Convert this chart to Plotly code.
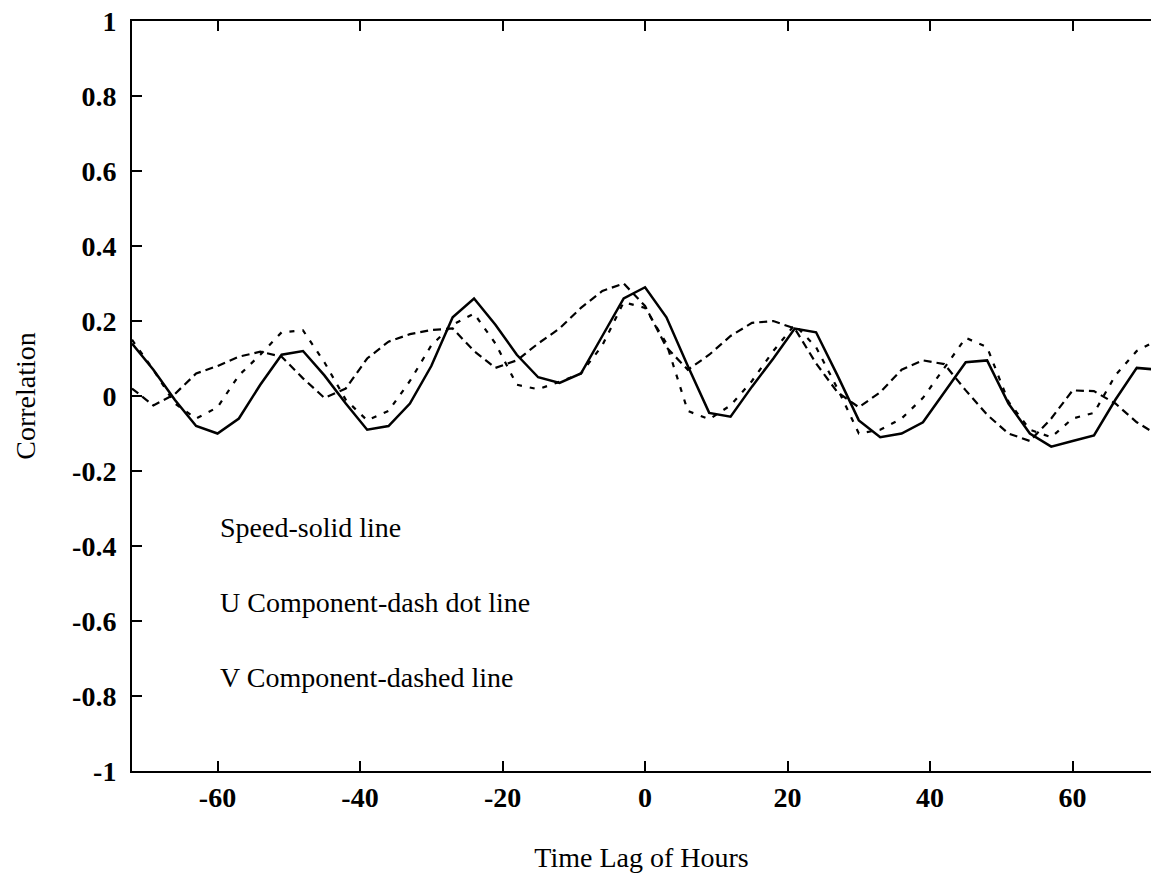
import plotly.graph_objects as go

# ---- data ----
lags = [-72, -69, -66, -63, -60, -57, -54, -51, -48, -45, -42, -39, -36, -33, -30, -27, -24,
        -21, -18, -15, -12, -9, -6, -3, 0, 3, 6, 9, 12, 15, 18, 21, 24, 27, 30, 33, 36, 39,
        42, 45, 48, 51, 54, 57, 60, 63, 66, 69, 72]

speed = [0.14, 0.07, -0.01, -0.08, -0.10, -0.06, 0.03, 0.11, 0.12, 0.055, -0.02, -0.09, -0.08,
         -0.02, 0.08, 0.21, 0.26, 0.19, 0.11, 0.05, 0.035, 0.06, 0.16, 0.26, 0.29, 0.21, 0.08,
         -0.045, -0.055, 0.025, 0.10, 0.18, 0.17, 0.055, -0.065, -0.11, -0.10, -0.07, 0.01,
         0.09, 0.095, -0.02, -0.10, -0.135, -0.12, -0.105, -0.01, 0.075, 0.07]

u_comp = [0.15, 0.07, -0.02, -0.06, -0.03, 0.055, 0.11, 0.17, 0.175, 0.09, -0.01, -0.065, -0.04,
          0.04, 0.135, 0.19, 0.22, 0.14, 0.03, 0.018, 0.038, 0.06, 0.135, 0.25, 0.235, 0.14,
          -0.04, -0.062, -0.025, 0.04, 0.12, 0.19, 0.13, 0.02, -0.10, -0.09, -0.06, -0.005,
          0.075, 0.155, 0.13, -0.015, -0.09, -0.11, -0.06, -0.045, 0.055, 0.12, 0.15]

v_comp = [0.02, -0.025, 0.005, 0.06, 0.08, 0.105, 0.118, 0.105, 0.047, -0.005, 0.02, 0.10, 0.145,
          0.165, 0.176, 0.18, 0.12, 0.075, 0.095, 0.14, 0.18, 0.235, 0.28, 0.30, 0.24, 0.13,
          0.07, 0.11, 0.16, 0.195, 0.20, 0.18, 0.087, 0.01, -0.03, 0.01, 0.07, 0.095, 0.085,
          0.015, -0.05, -0.10, -0.12, -0.06, 0.015, 0.013, -0.02, -0.07, -0.105]

x_tickvals = [-60, -40, -20, 0, 20, 40, 60]
x_ticktext = ["-60", "-40", "-20", "0", "20", "40", "60"]
y_tickvals = [-1, -0.8, -0.6, -0.4, -0.2, 0, 0.2, 0.4, 0.6, 0.8, 1]
y_ticktext = ["-1", "-0.8", "-0.6", "-0.4", "-0.2", "0", "0.2", "0.4", "0.6", "0.8", "1"]

notes = ["Speed-solid line", "U Component-dash dot line", "V Component-dashed line"]
note_y = [-0.35, -0.55, -0.75]
note_x = -60

FONT = "Liberation Serif, Times New Roman, serif"
TICKFONT = dict(family=FONT, size=28, color="black", weight="bold")
TEXTFONT = dict(family=FONT, size=28, color="black")

fig = go.Figure()
fig.add_trace(go.Scatter(x=lags, y=speed, mode="lines", name="Speed",
                         line=dict(color="black", width=2.5)))
fig.add_trace(go.Scatter(x=lags, y=u_comp, mode="lines", name="U Component",
                         line=dict(color="black", width=2.2, dash="5px,8px")))
fig.add_trace(go.Scatter(x=lags, y=v_comp, mode="lines", name="V Component",
                         line=dict(color="black", width=2.2, dash="8px,5px")))

for t, yy in zip(notes, note_y):
    fig.add_annotation(x=note_x, y=yy, xref="x", yref="y", text=t, showarrow=False,
                       xanchor="left", yanchor="middle", font=TEXTFONT)

fig.update_layout(
    width=1151, height=876,
    margin=dict(l=132, r=0, t=21, b=105),
    paper_bgcolor="white", plot_bgcolor="white",
    showlegend=False,
    font=TEXTFONT,
    xaxis=dict(range=[-72, 71.0], tickvals=x_tickvals, ticktext=x_ticktext,
               ticks="inside", ticklen=10, tickwidth=2, tickcolor="black",
               showline=True, linecolor="black", linewidth=2, mirror="ticks",
               showgrid=False, zeroline=False, ticklabelstandoff=0,
               tickfont=TICKFONT,
               title=dict(text="Time Lag of Hours", standoff=36, font=TEXTFONT)),
    yaxis=dict(range=[-1, 1], tickvals=y_tickvals, ticktext=y_ticktext,
               ticks="inside", ticklen=10, tickwidth=2, tickcolor="black",
               showline=True, linecolor="black", linewidth=2, mirror=False,
               showgrid=False, zeroline=False, ticklabelstandoff=8,
               tickfont=TICKFONT,
               title=dict(text="Correlation", standoff=28, font=TEXTFONT)),
)

fig.write_html("out.html", config={"displayModeBar": False},
               post_script="document.body.style.margin='0';document.body.style.overflow='hidden';")
